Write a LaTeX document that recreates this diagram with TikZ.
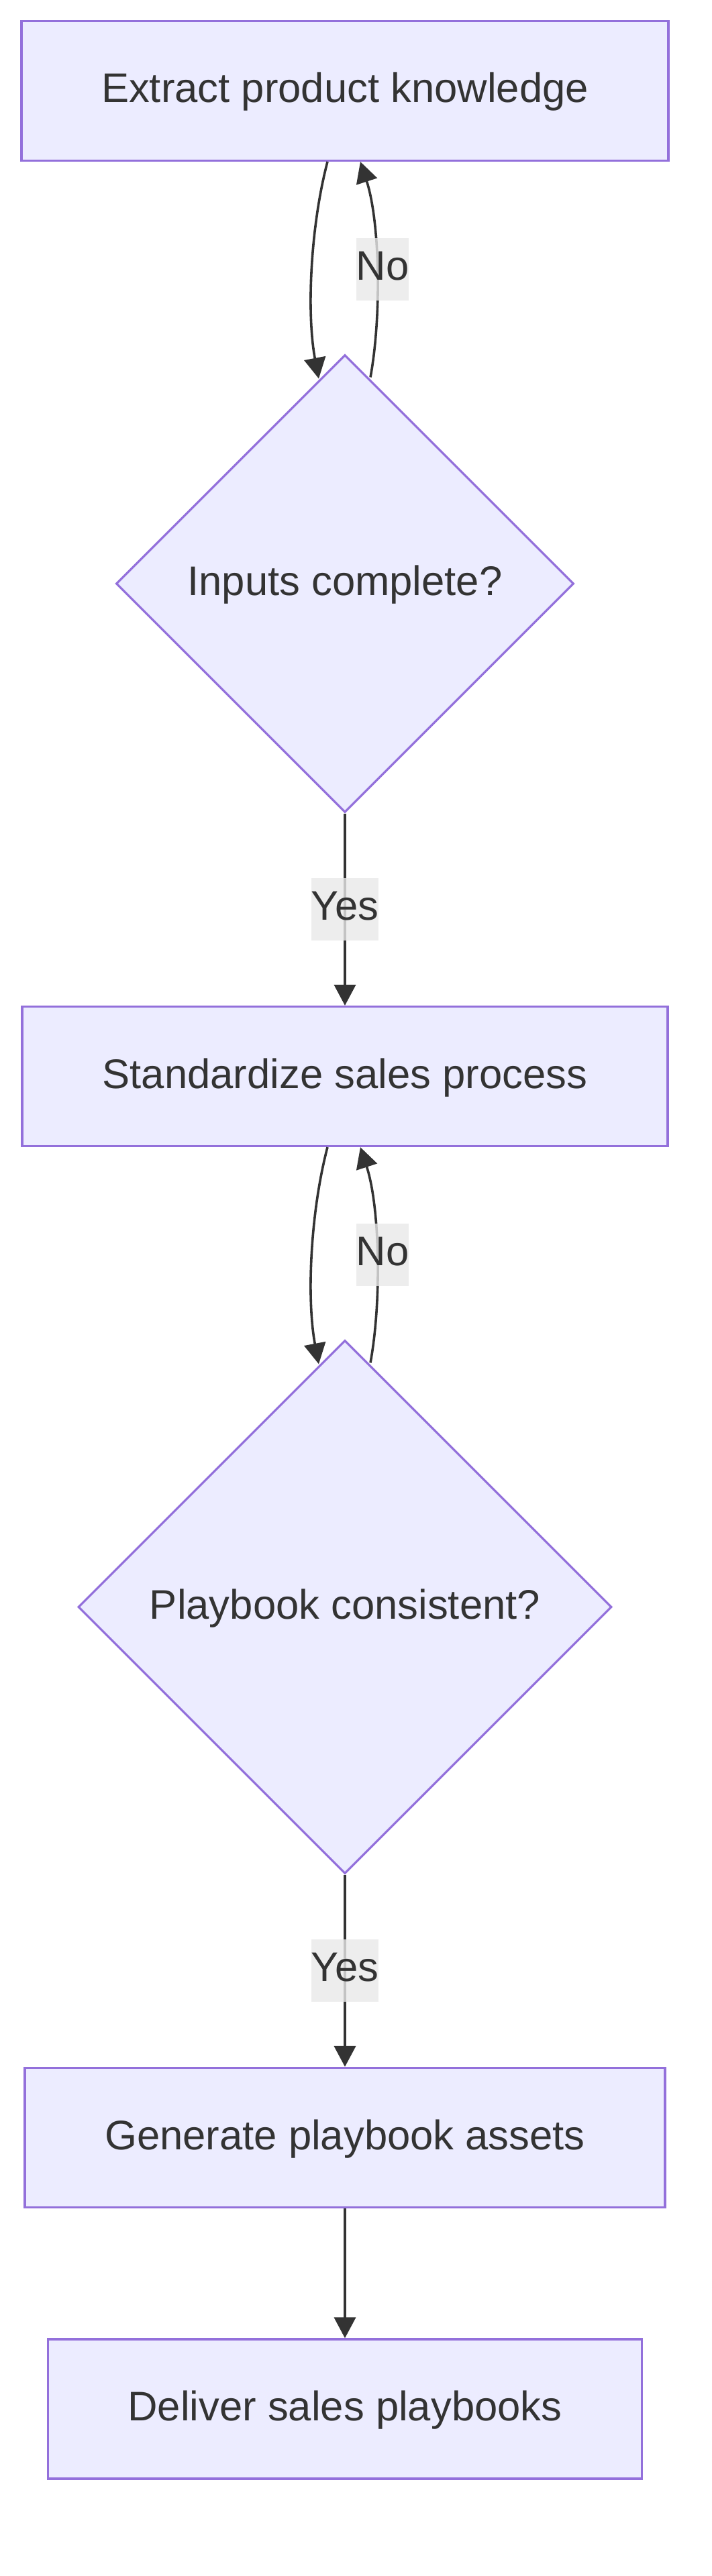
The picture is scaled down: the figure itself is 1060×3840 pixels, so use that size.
\documentclass[tikz,border=0pt]{standalone}
\usepackage{fontspec}
\setmainfont{Liberation Sans}
\usetikzlibrary{shapes.geometric,arrows.meta,calc}
\definecolor{nodefill}{HTML}{ECECFF}
\definecolor{nodeline}{HTML}{9370DB}
\definecolor{ink}{HTML}{333333}
\definecolor{lblfill}{HTML}{E8E8E8}
\begin{document}
\begin{tikzpicture}[x=0.25pt,y=-0.25pt,
  font=\fontsize{15.4pt}{18pt}\selectfont, text=ink,
  procbox/.style={draw=nodeline, fill=nodefill, line width=0.8pt, rectangle,
    inner sep=0pt, minimum height=52pt, text height=11.25pt, text depth=2.5pt},
  decision/.style={draw=nodeline, fill=nodefill, line width=0.8pt, diamond, aspect=1,
    inner sep=0pt, text height=11.25pt, text depth=2.5pt},
  flow/.style={draw=ink, line width=0.9pt, -{Triangle[length=7.75pt,width=8pt]}},
  edgelabel/.style={fill=lblfill, fill opacity=0.8, text opacity=1, inner sep=0pt,
    text height=15.5pt, text depth=7.75pt}]
\useasboundingbox (0,0) rectangle (1060,3840);

\node[procbox, minimum width=241pt] (b1) at (514,135.5) {Extract product knowledge};
\node[decision, minimum width=170.5pt, minimum height=170.5pt] (d1) at (514,870) {Inputs complete?};
\node[procbox, minimum width=240.5pt] (b2) at (514,1604.5) {Standardize sales process};
\node[decision, minimum width=198.75pt, minimum height=198.75pt] (d2) at (514,2395.5) {Playbook consistent?};
\node[procbox, minimum width=238.5pt] (b3) at (514,3186.5) {Generate playbook assets};
\node[procbox, minimum width=221.25pt] (b4) at (514,3591) {Deliver sales playbooks};

% loop 1
\draw[flow] ($(b1.south)+(-26,0)$) .. controls ($(b1.south)+(-52,99)$) and ($(d1.north)+(-57,-58)$) .. ($(d1.north)+(-39,37)$);
\draw[flow] ($(d1.north)+(38,35)$) .. controls ($(d1.north)+(55,-58)$) and ($(b1.south)+(52,89)$) .. ($(b1.south)+(23,0)$);
\node[edgelabel] (n1) at ($(b1.south)+(56,160.5)$) {No};

\draw[flow] (d1.south) -- (b2.north);
\node[edgelabel] (y1) at ($(d1.south)!0.5!(b2.north)$) {Yes};

% loop 2
\draw[flow] ($(b2.south)+(-26,0)$) .. controls ($(b2.south)+(-52,99)$) and ($(d2.north)+(-57,-58)$) .. ($(d2.north)+(-39,37)$);
\draw[flow] ($(d2.north)+(38,35)$) .. controls ($(d2.north)+(55,-58)$) and ($(b2.south)+(52,89)$) .. ($(b2.south)+(23,0)$);
\node[edgelabel] (n2) at ($(b2.south)+(56,160.5)$) {No};

\draw[flow] (d2.south) -- (b3.north);
\node[edgelabel] (y2) at ($(d2.south)!0.5!(b3.north)$) {Yes};

\draw[flow] (b3.south) -- (b4.north);
\end{tikzpicture}
\end{document}
